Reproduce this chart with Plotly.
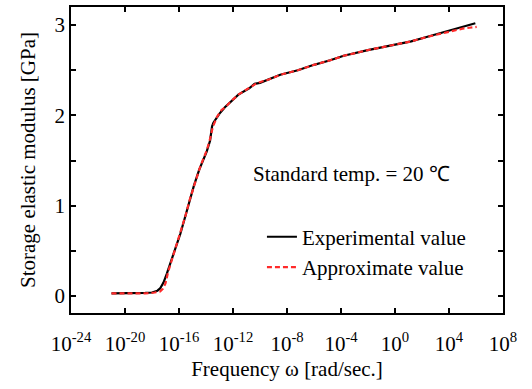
import plotly.graph_objects as go

# log10 of frequency [rad/sec] and storage modulus [GPa]
exp_log_freq = [-21.0, -19.5, -18.5, -18.0, -17.6, -17.4, -17.15, -16.9, -16.4, -15.9,
                -15.5, -15.2, -14.9, -14.5, -14.2, -13.95, -13.7, -13.55, -13.45, -13.0,
                -12.6, -12.2, -11.6, -10.8, -10.4, -10.0, -9.3, -8.5, -7.2, -6.0,
                -4.8, -3.8, -2.1, 0.0, 1.2, 2.4, 3.8, 5.0, 5.3, 5.95]
exp_modulus = [0.03, 0.03, 0.035, 0.04, 0.06, 0.085, 0.15, 0.25, 0.46, 0.69,
               0.90, 1.07, 1.22, 1.40, 1.51, 1.60, 1.72, 1.88, 1.92, 2.02,
               2.09, 2.15, 2.23, 2.30, 2.35, 2.36, 2.40, 2.45, 2.50, 2.56,
               2.61, 2.66, 2.72, 2.78, 2.82, 2.87, 2.93, 2.98, 2.99, 3.02]

apx_log_freq = [-21.0, -19.5, -18.5, -17.8, -17.4, -17.2, -17.0, -16.8, -16.4, -15.9,
                -15.5, -15.2, -14.9, -14.5, -14.2, -13.95, -13.7, -13.5, -13.2, -12.85,
                -12.5, -12.2, -11.6, -10.8, -10.2, -9.3, -8.5, -7.2, -6.0, -4.8,
                -3.8, -2.1, 0.0, 1.2, 2.4, 3.8, 5.0, 5.5, 6.05]
apx_modulus = [0.03, 0.03, 0.03, 0.04, 0.05, 0.08, 0.14, 0.27, 0.46, 0.69,
               0.90, 1.07, 1.22, 1.40, 1.52, 1.61, 1.74, 1.87, 1.98, 2.06,
               2.10, 2.15, 2.23, 2.30, 2.36, 2.40, 2.45, 2.50, 2.56, 2.61,
               2.66, 2.72, 2.78, 2.82, 2.87, 2.92, 2.96, 2.97, 2.98]

x_tick_exps = [-24, -20, -16, -12, -8, -4, 0, 4, 8]
y_tick_vals = [0, 0.5, 1, 1.5, 2, 2.5, 3]
y_tick_text = ["0", "", "1", "", "2", "", "3"]

FONT = "Liberation Serif, Times New Roman, serif"
FS = 21

fig = go.Figure()
fig.add_trace(go.Scatter(
    x=[10 ** e for e in exp_log_freq], y=exp_modulus, mode="lines",
    name="Experimental value", line=dict(color="black", width=2.2)))
fig.add_trace(go.Scatter(
    x=[10 ** e for e in apx_log_freq], y=apx_modulus, mode="lines",
    name="Approximate value", line=dict(color="#ff2a2a", width=2.2, dash="5px,3px")))

fig.update_xaxes(
    type="log", range=[-24, 8],
    tickvals=[10 ** e for e in x_tick_exps],
    ticktext=[f"10<sup>{e}</sup>" for e in x_tick_exps],
    ticks="inside", ticklen=5, tickwidth=1.5, tickcolor="black",
    showline=True, linecolor="black", linewidth=1.5, mirror="allticks",
    showgrid=False, zeroline=False, ticklabelstandoff=11,
    title=dict(text="Frequency ω [rad/sec.]", font=dict(size=FS, family=FONT, color="black"), standoff=6),
    tickfont=dict(size=FS, family=FONT, color="black"))
fig.update_yaxes(
    range=[-0.187, 3.2],
    tickvals=y_tick_vals, ticktext=y_tick_text,
    ticks="inside", ticklen=5, tickwidth=1.5, tickcolor="black",
    showline=True, linecolor="black", linewidth=1.5, mirror="allticks",
    showgrid=False, zeroline=False,
    title=dict(text="Storage elastic modulus [GPa]", font=dict(size=FS, family=FONT, color="black"), standoff=13),
    tickfont=dict(size=FS, family=FONT, color="black"))

fig.add_annotation(
    x=0.650, y=0.455, xref="paper", yref="paper", showarrow=False,
    text="Standard temp. = 20 ℃", font=dict(size=FS, family=FONT, color="black"))

fig.update_layout(
    width=532, height=389,
    margin=dict(l=71, r=29, t=5, b=76),
    paper_bgcolor="white", plot_bgcolor="white",
    font=dict(family=FONT, color="black", size=FS),
    legend=dict(x=0.442, y=0.315, xanchor="left", yanchor="top",
                bgcolor="rgba(0,0,0,0)", font=dict(size=FS, family=FONT, color="black"),
                tracegroupgap=0),
)

fig.write_html("out.html")
